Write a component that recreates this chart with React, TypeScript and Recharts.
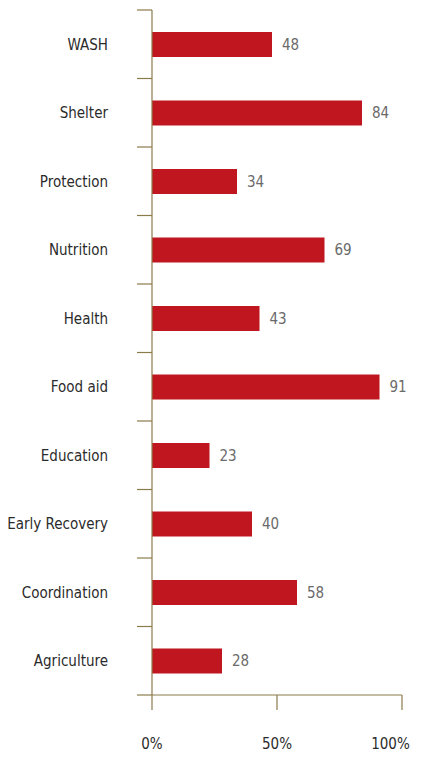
import { BarChart, Bar, XAxis, YAxis, LabelList } from "recharts";

const categories = [
  "WASH",
  "Shelter",
  "Protection",
  "Nutrition",
  "Health",
  "Food aid",
  "Education",
  "Early Recovery",
  "Coordination",
  "Agriculture",
];
const values = [48, 84, 34, 69, 43, 91, 23, 40, 58, 28];
const xTicks = [0, 50, 100];

const data = categories.map((name, i) => ({ name, value: values[i] }));

const W = 400;
const H = 746;
const Y_WIDTH = 144;
const TOP = 2;
const X_HEIGHT = 59;
const PLOT_H = H - TOP - X_HEIGHT;
const BAND = PLOT_H / categories.length;

const AXIS = "#8c7b4a";
const FONT = "'Liberation Sans Narrow', 'DejaVu Sans Condensed', sans-serif";

function CategoryTick(props: any) {
  const { y, payload, index } = props;
  const half = BAND / 2;
  return (
    <g>
      <line x1={Y_WIDTH - 15} x2={Y_WIDTH} y1={y - half} y2={y - half} stroke={AXIS} strokeWidth={1.2} />
      {index === categories.length - 1 && (
        <line x1={Y_WIDTH - 15} x2={Y_WIDTH} y1={y + half} y2={y + half} stroke={AXIS} strokeWidth={1.2} />
      )}
      <text x={100} y={y} dy="0.35em" textAnchor="end" fill="#2b2b2b" fontSize={15} fontFamily={FONT}>
        {payload.value}
      </text>
    </g>
  );
}

export default function App() {
  return (
    <div>
      <style>{`svg.recharts-surface { overflow: visible; display: block; } .recharts-wrapper { overflow: visible !important; }`}</style>
      <BarChart
        width={W}
        height={H}
        data={data}
        layout="vertical"
        margin={{ top: TOP, right: 6, bottom: 0, left: 0 }}
        style={{ background: "#fff", overflow: "visible" }}
      >
        <XAxis
          type="number"
          domain={[0, 100]}
          ticks={xTicks}
          tickFormatter={(v) => `${v}%`}
          height={X_HEIGHT}
          axisLine={{ stroke: AXIS, strokeWidth: 1.2 }}
          tickLine={{ stroke: AXIS, strokeWidth: 1.2 }}
          tickSize={15}
          tickMargin={28}
          tick={{ fill: "#2b2b2b", fontSize: 15, fontFamily: FONT }}
        />
        <YAxis
          type="category"
          dataKey="name"
          width={Y_WIDTH}
          axisLine={{ stroke: AXIS, strokeWidth: 1.2 }}
          tickLine={false}
          tick={<CategoryTick />}
          interval={0}
        />
        <Bar dataKey="value" fill="#c0161f" barSize={25} isAnimationActive={false}>
          <LabelList
            dataKey="value"
            position="right"
            offset={10}
            fill="#6a6a6a"
            fontSize={15}
            fontFamily={FONT}
          />
        </Bar>
      </BarChart>
    </div>
  );
}
